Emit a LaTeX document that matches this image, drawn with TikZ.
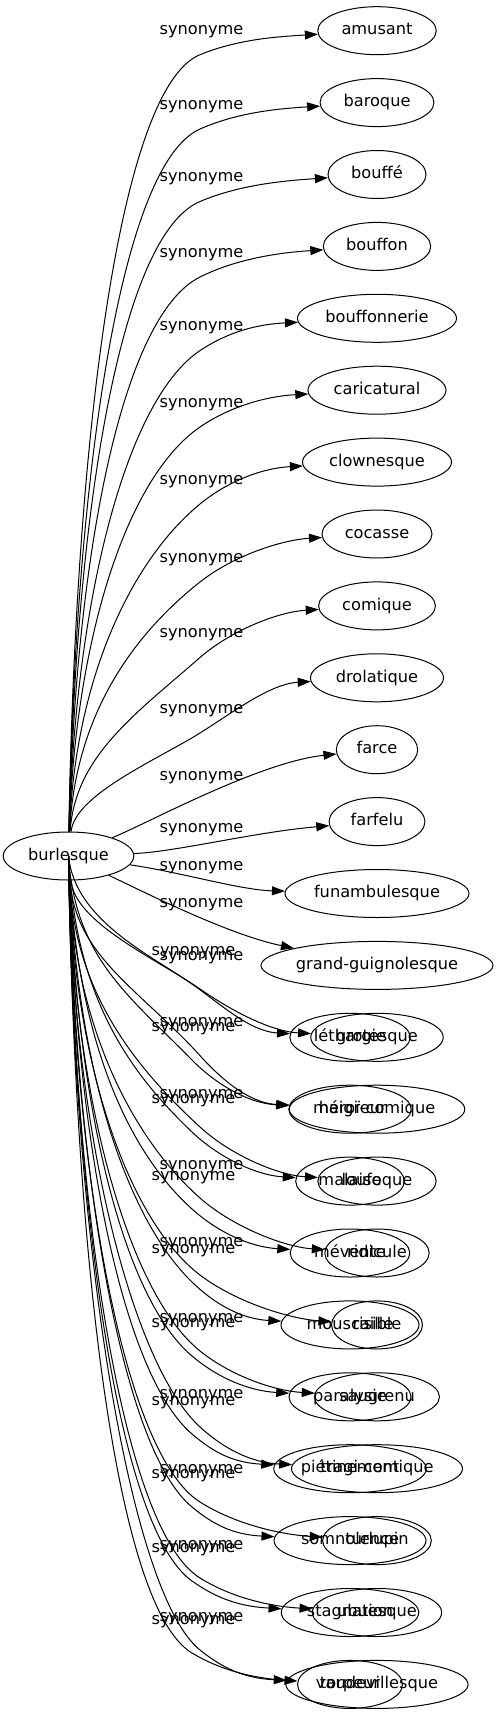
\documentclass[tikz,border=0pt]{standalone}
\usepackage{fontspec}
\setmainfont{DejaVu Sans}
\usetikzlibrary{arrows.meta,shapes.geometric}
\tikzset{
  word/.style={draw, line width=1pt, ellipse, inner sep=0pt, text height=12pt, text depth=3.5pt,
    minimum height=48pt, minimum width=#1},
  rel/.style={inner sep=1pt, text height=12pt, text depth=3.5pt},
  syn/.style={draw, line width=1pt, -{Triangle[length=13pt,width=9pt]}},
}
% fan edge: start, target, x at the label, y at the label (px down), +1 down / -1 up, root side
\newcommand\fan[6]{%
  \path (#2.west); \pgfgetlastxy{\fanx}{\fany}
  \pgfmathsetmacro\fanty{-\fany}
  \pgfmathsetmacro\fanA{abs(#4-#6)/(#3-72)}
  \pgfmathsetmacro\fanB{abs(\fanty-#4)/(\fanx-#3)}
  \pgfmathsetmacro\fans{min(2*\fanB,0.8*\fanA)}
  \pgfmathsetmacro\fanvx{1/sqrt(1+\fans*\fans)}
  \pgfmathsetmacro\fanvy{#5*\fans*\fanvx}
  \pgfmathsetmacro\fanLa{min(90,0.5*abs(#4-#6))}
  \pgfmathsetmacro\fanLb{0.35*(\fanx-#3)}
  \draw[syn] (#1) .. controls (75,{-(856+#5*0.5*abs(#4-856))})
    and ({#3-\fanLa*\fanvx},{-(#4-\fanLa*\fanvy)}) .. (#3,-#4)
    .. controls ({#3+\fanLb*\fanvx},{-(#4+\fanLb*\fanvy)}) and ({\fanx-40},{-(\fanty-#5*6)}) .. (#2);
}

\begin{document}
\begin{tikzpicture}[x=1pt, y=1pt, font=\fontsize{16.2}{19}\selectfont]
\useasboundingbox (0,0) rectangle (499,-1715);

\node[word=130.6] (root) at (68.5,-856) {burlesque};

% synonymes de burlesque
\node[word=118.5] (amusant) at (377,-30.7) {amusant};
\node[word=113.9] (baroque) at (377,-102.6) {baroque};
\node[word=98] (bouffe) at (377,-174.5) {bouffé};
\node[word=107.4] (bouffon) at (377,-246.4) {bouffon};
\node[word=159] (bouffonnerie) at (377,-318.3) {bouffonnerie};
\node[word=138] (caricatural) at (377,-390.2) {caricatural};
\node[word=149] (clownesque) at (377,-462.1) {clownesque};
\node[word=110] (cocasse) at (377,-534) {cocasse};
\node[word=116.8] (comique) at (377,-605.9) {comique};
\node[word=133] (drolatique) at (377,-677.8) {drolatique};
\node[word=81.3] (farce) at (377,-749.7) {farce};
\node[word=95.8] (farfelu) at (377,-821.6) {farfelu};
\node[word=184] (funambulesque) at (377,-893.5) {funambulesque};
\node[word=232] (grandguignolesque) at (377,-965.4) {grand-guignolesque};
\node[word=132.4] (grotesque) at (377,-1037.3) {grotesque};
\node[word=175.6] (heroicomique) at (377,-1109.2) {héroï-comique};
\node[word=118.3] (loufoque) at (377,-1181.1) {loufoque};
\node[word=104.3] (ridicule) at (377,-1253) {ridicule};
\node[word=90.9] (risible) at (377,-1324.9) {risible};
\node[word=124.9] (saugrenu) at (377,-1396.8) {saugrenu};
\node[word=171] (tragicomique) at (377,-1468.7) {tragi-comique};
\node[word=108.7] (turlupin) at (377,-1540.6) {turlupin};
\node[word=129.4] (ubuesque) at (377,-1612.5) {ubuesque};
\node[word=182.2] (vaudevillesque) at (377,-1684.4) {vaudevillesque};

% second column, drawn over the first
\node[word=120.3] (lethargie) at (350,-1037.3) {léthargie};
\node[word=122.3] (maigreur) at (350,-1109.2) {maigreur};
\node[word=108.6] (malaise) at (350,-1181.1) {malaise};
\node[word=119.6] (mevente) at (350,-1253) {mévente};
\node[word=138] (mouscaille) at (350,-1324.9) {mouscaille};
\node[word=122] (paralysie) at (350,-1396.8) {paralysie};
\node[word=152.5] (pietinement) at (350,-1468.7) {piétinement};
\node[word=152] (somnolence) at (350,-1540.6) {somnolence};
\node[word=137.5] (stagnation) at (350,-1612.5) {stagnation};
\node[word=105] (torpeur) at (350,-1684.4) {torpeur};

% upper fan
\foreach \t/\ly in {amusant/30.7, baroque/105, bouffe/177.5, bouffon/253, bouffonnerie/326.6,
    caricatural/403, clownesque/480, cocasse/558, comique/633.5, drolatique/709}{
  \pgfmathsetmacro\my{\ly+24}
  \fan{root}{\t}{200}{\my}{-1}{833}
  \node[rel] (l\t) at (201.5,-\ly) {synonyme};
}

% middle edges
\draw[syn] (root) .. controls (150,-822) and (260,-762) .. (farce);
\node[rel] (lfarce) at (201.5,-776) {synonyme};
\draw[syn] (root) .. controls (175,-852) and (255,-832) .. (farfelu);
\node[rel] (lfarfelu) at (201.5,-828) {synonyme};
\draw[syn] (root) .. controls (180,-872) and (240,-890) .. (funambulesque);
\node[rel] (lfunambulesque) at (201.5,-866) {synonyme};
\draw[syn] (root) .. controls (150,-895) and (230,-935) .. (grandguignolesque);
\node[rel] (lgrandguignolesque) at (201.5,-903) {synonyme};

% lower fan
\foreach \t/\ly in {grotesque/956, heroicomique/1022.6, loufoque/1094, ridicule/1165, risible/1242,
    saugrenu/1318, tragicomique/1394, turlupin/1469, ubuesque/1545, vaudevillesque/1617}{
  \pgfmathsetmacro\my{\ly+33}
  \fan{root}{\t}{200}{\my}{1}{879}
  \node[rel] (l\t) at (201.5,-\ly) {synonyme};
}
\foreach \t/\ly in {lethargie/951, maigreur/1027, malaise/1099, mevente/1176, mouscaille/1249,
    paralysie/1323, pietinement/1401, somnolence/1474, stagnation/1548, torpeur/1620}{
  \pgfmathsetmacro\my{\ly+33}
  \fan{root.center}{\t}{192}{\my}{1}{879}
  \node[rel] (l\t) at (193.5,-\ly) {synonyme};
}
\end{tikzpicture}
\end{document}
